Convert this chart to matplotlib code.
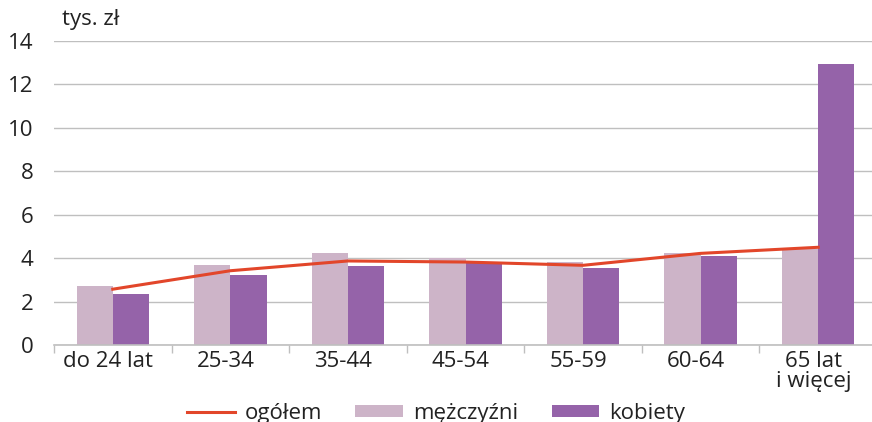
import numpy as np
import matplotlib
matplotlib.use("Agg")
import matplotlib.pyplot as plt

plt.rcParams["font.family"] = ["Open Sans", "DejaVu Sans"]

categories = ["do 24 lat", "25-34", "35-44", "45-54", "55-59", "60-64", "65 lat\ni więcej"]
ogolem = [2.57, 3.42, 3.87, 3.82, 3.67, 4.22, 4.50]
mezczyzni = [2.72, 3.69, 4.24, 4.01, 3.82, 4.24, 4.40]
kobiety = [2.35, 3.23, 3.64, 3.76, 3.55, 4.10, 12.95]

fig = plt.figure(figsize=(8.72, 4.22), dpi=100)
ax = fig.add_axes([54 / 872, 1 - 345 / 422, 823 / 872, 304 / 422])

x = np.arange(len(categories))
w = 0.308
ax.bar(x - w, mezczyzni, width=w, align="edge", color="#CDB4C8", label="mężczyźni", zorder=2)
ax.bar(x, kobiety, width=w, align="edge", color="#9563A9", label="kobiety", zorder=2)
ax.plot(x, ogolem, color="#E2462A", linewidth=2.2, label="ogółem", zorder=3)

ax.set_xlim(-0.5, 6.5)
ax.set_ylim(0, 14)
ax.set_yticks(np.arange(0, 15, 2))
ax.yaxis.grid(True, color="#BFBFBF", linewidth=1.0, zorder=0)
ax.set_axisbelow(True)

ax.set_xticks(x - 0.04)
ax.set_xticklabels(categories, fontsize=16, color="#222222", linespacing=0.95)
ax.set_xticks(np.arange(-0.5, 7, 1), minor=True)
ax.tick_params(axis="x", which="major", length=0, pad=4)
ax.tick_params(axis="x", which="minor", length=6, color="#BFBFBF", width=1)
ax.tick_params(axis="y", length=0, labelsize=16, labelcolor="#222222", pad=15)

for s in ["top", "right", "left"]:
    ax.spines[s].set_visible(False)
ax.spines["bottom"].set_color("#BFBFBF")
ax.spines["bottom"].set_linewidth(1.2)

fig.text(62 / 872, 1 - 20 / 422, "tys. zł", fontsize=16, color="#222222", va="center")

h, l = ax.get_legend_handles_labels()
order = [l.index("ogółem"), l.index("mężczyźni"), l.index("kobiety")]
fig.legend([h[i] for i in order], [l[i] for i in order], loc="center",
           bbox_to_anchor=(436 / 872, 1 - 413 / 422), ncol=3, frameon=False,
           fontsize=16, handlelength=2.15, handleheight=0.45, columnspacing=1.5,
           handletextpad=0.45, labelcolor="#222222")

fig.savefig("out.png", dpi=100)
